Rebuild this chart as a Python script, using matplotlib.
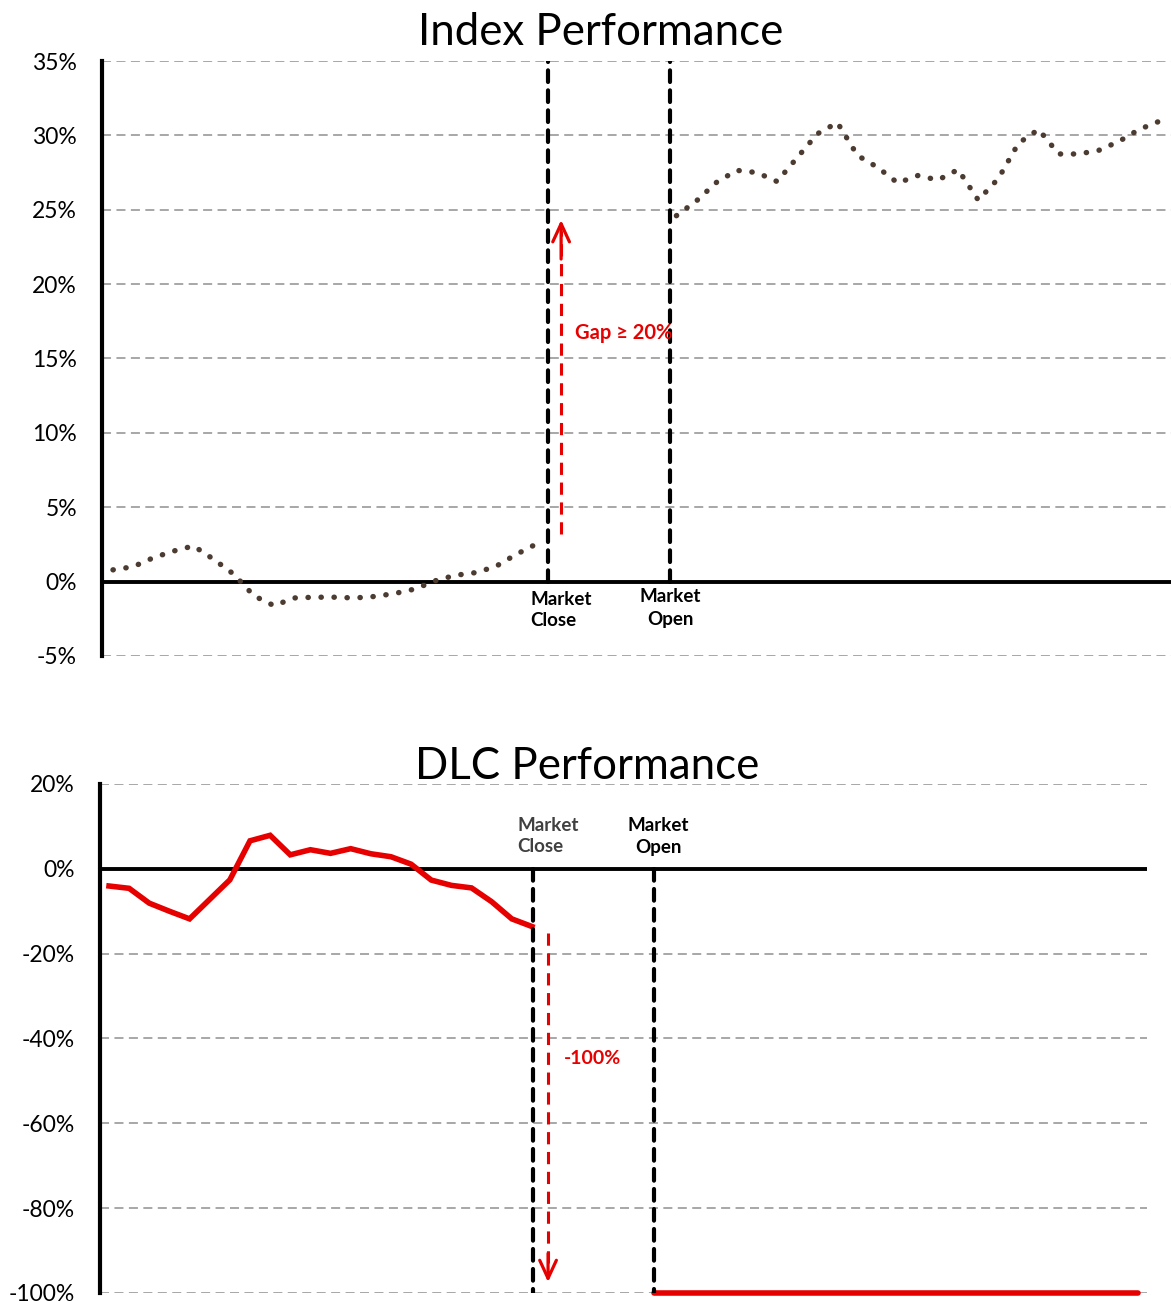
import matplotlib.pyplot as plt

plt.rcParams['font.family'] = ['Lato', 'DejaVu Sans']

# Index performance (%), on a shared time index
index_pre_t = list(range(0, 22))
index_pre = [0.79, 1.0, 1.6, 2.05, 2.4, 1.5, 0.5, -0.95, -1.62, -1.1, -1.05,
             -1.05, -1.1, -1.0, -0.8, -0.5, 0.05, 0.42, 0.6, 1.0, 1.8, 2.5]
index_post_t = list(range(28, 53))
index_post = [24.6, 25.6, 26.85, 27.65, 27.5, 26.9, 28.5, 30.1, 30.86, 28.65,
              27.85, 26.8, 27.3, 27.0, 27.7, 25.65, 27.1, 29.47, 30.4, 28.75,
              28.75, 29.0, 29.6, 30.4, 30.95]
index_close_t = 21.6
index_open_t = 27.7
index_ticks = [-5, 0, 5, 10, 15, 20, 25, 30, 35]
index_tick_labels = ['-5%', '0%', '5%', '10%', '15%', '20%', '25%', '30%', '35%']

# DLC performance (%)
dlc_pre_t = list(range(0, 22))
dlc_pre = [-4.05, -4.6, -8.1, -10.0, -11.8, -7.2, -2.6, 6.6, 7.9, 3.3, 4.5,
           3.65, 4.75, 3.55, 2.85, 1.1, -2.65, -3.9, -4.5, -7.75, -11.8, -13.6]
dlc_post_t = [27.05, 51.1]
dlc_post = [-100, -100]
dlc_close_t = 21.05
dlc_open_t = 27.05
dlc_ticks = [-100, -80, -60, -40, -20, 0, 20]
dlc_tick_labels = ['-100%', '-80%', '-60%', '-40%', '-20%', '0%', '20%']

RED = '#E60000'
DOT = '#4B3B30'

fig = plt.figure(figsize=(11.71, 13.01), dpi=100)
ax1 = fig.add_axes([0.0871, 0.4958, 0.9129, 0.4573])
ax2 = fig.add_axes([0.0854, 0.00615, 0.8941, 0.39125])


def style_axis(ax, ticks, labels, ylim, xlim):
    ax.set_ylim(*ylim)
    ax.set_xlim(*xlim)
    ax.set_yticks(ticks)
    ax.set_yticklabels(labels)
    ax.set_xticks([])
    for s in ['top', 'right', 'bottom']:
        ax.spines[s].set_visible(False)
    ax.spines['left'].set_linewidth(3)
    ax.tick_params(axis='y', length=0, pad=18, labelsize=16.5)
    for t in ticks:
        if t != 0:
            ax.axhline(t, color='#A0A0A0', lw=1.3, ls=(0, (5, 3)), zorder=0)
    ax.axhline(0, color='black', lw=2.8, zorder=3)


# ---- Index Performance ----
style_axis(ax1, index_ticks, index_tick_labels, (-5, 35), (-0.547, 52.58))
dot_kw = dict(color=DOT, lw=3.9, ls=(0, (0.05, 2.35)), dash_capstyle='round', zorder=4)
ax1.plot(index_pre_t, index_pre, **dot_kw)
ax1.plot(index_post_t, index_post, **dot_kw)
vkw = dict(color='black', lw=3, ls=(0, (2.8, 2.0)), dash_capstyle='round', zorder=5)
ax1.plot([index_close_t, index_close_t], [0, 35], **vkw)
ax1.plot([index_open_t, index_open_t], [0, 35], **vkw)

arrow_props = dict(arrowstyle='->,head_length=1.3,head_width=0.6', color=RED, lw=2.3)
ax1.plot([22.27, 22.27], [3.2, 23.6], color=RED, lw=2.2, ls=(0, (4, 2.5)), zorder=6)
ax1.annotate('', xy=(22.27, 24.5), xytext=(22.27, 21.5), arrowprops=arrow_props, zorder=6)
ax1.text(22.96, 16.7, 'Gap \u2265 20%', color=RED, fontsize=14.5, fontweight='bold',
         va='center', ha='left', zorder=6)
ax1.text(20.73, -0.6, 'Market\nClose', fontsize=13.5, fontweight='bold',
         va='top', ha='left', color='black', linespacing=1.3)
ax1.text(27.68, -0.45, 'Market\nOpen', fontsize=13.5, fontweight='bold',
         va='top', ha='center', multialignment='center', color='black', linespacing=1.4)

fig.text(0.513, 0.975, 'Index Performance', fontsize=31.5, ha='center', va='center')

# ---- DLC Performance ----
style_axis(ax2, dlc_ticks, dlc_tick_labels, (-100, 20), (-0.447, 51.54))
ax2.plot(dlc_pre_t, dlc_pre, color=RED, lw=4, solid_joinstyle='miter', zorder=4)
ax2.plot(dlc_post_t, dlc_post, color=RED, lw=4, solid_capstyle='round', zorder=4,
         clip_on=False)
ax2.plot([dlc_close_t, dlc_close_t], [0, -100], **vkw)
ax2.plot([dlc_open_t, dlc_open_t], [0, -100], **vkw)

ax2.plot([21.8, 21.8], [-15.2, -95.0], color=RED, lw=2.2, ls=(0, (4, 2.5)), zorder=6)
ax2.annotate('', xy=(21.8, -98.1), xytext=(21.8, -90.0), arrowprops=arrow_props, zorder=6)
ax2.text(22.6, -44.6, '-100%', color=RED, fontsize=14, fontweight='bold',
         va='center', ha='left', zorder=6)
ax2.text(20.26, 12.3, 'Market\nClose', fontsize=13.5, fontweight='bold',
         va='top', ha='left', color='#404040', linespacing=1.3)
ax2.text(27.26, 12.3, 'Market\nOpen', fontsize=13.5, fontweight='bold',
         va='top', ha='center', multialignment='center', color='black', linespacing=1.4)

fig.text(0.501, 0.411, 'DLC Performance', fontsize=31.5, ha='center', va='center')

fig.savefig('out.png', dpi=100)
